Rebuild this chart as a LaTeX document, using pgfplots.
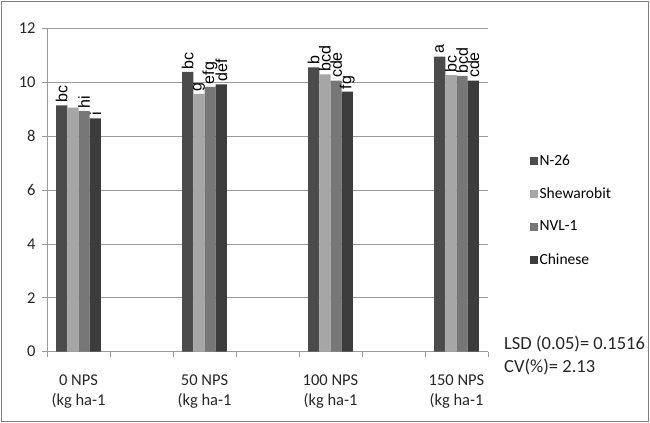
\documentclass[border=0pt]{standalone}
\usepackage{pgfplots}
\pgfplotsset{compat=1.18}
\usepackage{fontspec}
\setmainfont{Carlito}
\newfontfamily\lblfont{Liberation Sans}
\definecolor{cA}{HTML}{4B4B4B}
\definecolor{cB}{HTML}{A6A6A6}
\definecolor{cC}{HTML}{777777}
\definecolor{cD}{HTML}{3C3C3C}
\definecolor{gridc}{HTML}{9A9A9A}
\begin{document}
\begin{tikzpicture}
\path[use as bounding box] (0,0) rectangle (650bp,423bp);
\draw[color=gray, line width=1bp] (1.5bp,1.5bp) rectangle (648.5bp,421.5bp);
\begin{axis}[
  at={(47bp,71.3bp)}, anchor=south west,
  width=441bp, height=323.3bp, scale only axis,
  xmin=-0.5, xmax=6.5, ymin=0, ymax=12,
  ytick={0,2,...,12},
  xtick={0,2,4,6},
  xticklabels={{0 NPS\\(kg ha-1},{50 NPS\\(kg ha-1},{100 NPS\\(kg ha-1},{150 NPS\\(kg ha-1}},
  minor xtick={-0.5,0.5,...,6.5},
  major x tick style={draw=none},
  minor x tick style={gridc, line width=0.8bp},
  y tick style={gridc, line width=0.8bp},
  tick align=outside,
  major tick length=5bp, minor tick length=5bp,
  axis x line*=bottom, axis y line*=left,
  axis line style={gridc, line width=0.8bp, -},
  ymajorgrids, grid style={gridc, line width=0.8bp},
  /pgf/number format/assume math mode=true,
  tick label style={font=\fontsize{16.5bp}{19.5bp}\selectfont, text=black!85},
  xticklabel style={align=center, yshift=-15bp},
  yticklabel style={xshift=-3bp},
  ybar, bar width=0.178,
  nodes near coords, point meta=explicit symbolic,
  every node near coord/.append style={rotate=90, anchor=west, inner sep=0pt, xshift=2.5bp,
     font=\lblfont\fontsize{16bp}{18bp}\selectfont, text=black},
  legend style={at={(1.095,0.615)}, anchor=north west, draw=none, fill=none,
     font=\fontsize{15.5bp}{18bp}\selectfont, row sep=18bp, inner sep=0pt,
     nodes={inner sep=1.5bp}},
  legend cell align=left,
  legend image code/.code={\fill[#1] (0bp,-4.5bp) rectangle (8bp,3.5bp);},
  clip=false,
]
\addplot[fill=cA, draw=none, bar shift=-0.267] coordinates {(0,9.14)[bc] (2,10.39)[bc] (4,10.55)[b] (6,10.95)[a]};
\addplot[fill=cB, draw=none, bar shift=-0.089] coordinates {(0,9.06)[{}] (2,9.57)[g] (4,10.29)[bcd] (6,10.27)[bc]};
\addplot[fill=cC, draw=none, bar shift=0.089] coordinates {(0,8.93)[hi] (2,9.83)[efg] (4,10.06)[cde] (6,10.24)[bcd]};
\addplot[fill=cD, draw=none, bar shift=0.267] coordinates {(0,8.66)[i] (2,9.92)[def] (4,9.65)[fg] (6,10.06)[cde]};
\legend{N-26, Shewarobit, NVL-1, Chinese}
\end{axis}
\node[anchor=west, font=\fontsize{18.5bp}{20bp}\selectfont, text=black!85, inner sep=0pt] at (504bp,79bp) {LSD (0.05)= 0.1516};
\node[anchor=west, font=\fontsize{18.5bp}{20bp}\selectfont, text=black!85, inner sep=0pt] at (504bp,56bp) {CV(\%)= 2.13};
\end{tikzpicture}
\end{document}
